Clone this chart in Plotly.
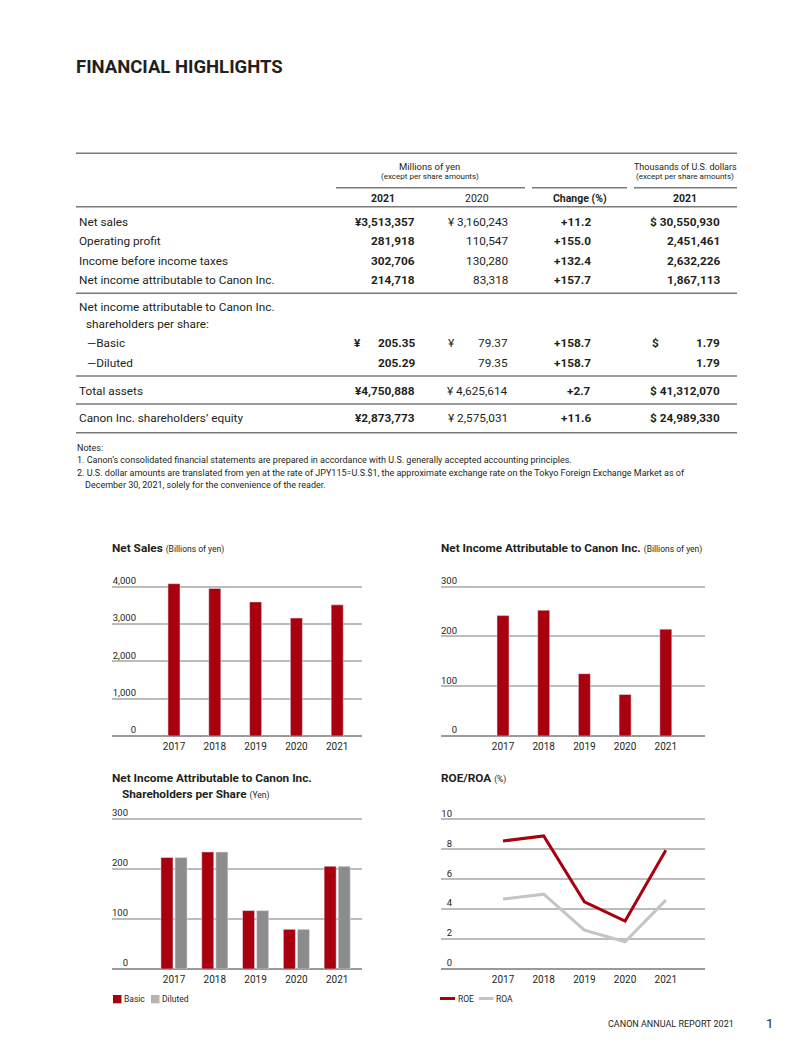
import plotly.graph_objects as go

# ---------------- data ----------------
years = ["2017", "2018", "2019", "2020", "2021"]
net_sales = [4080.0, 3951.9, 3593.3, 3160.2, 3513.4]          # billions of yen
net_income = [241.9, 252.8, 125.2, 83.3, 214.7]                 # billions of yen
eps_basic = [222.88, 234.09, 116.79, 79.37, 205.35]             # yen
eps_diluted = [222.86, 234.06, 116.77, 79.35, 205.29]           # yen
roe = [8.55, 8.89, 4.49, 3.2, 7.93]                             # %
roa = [4.67, 5.0, 2.6, 1.82, 4.6]                               # %

row_labels = ["Net sales", "Operating profit", "Income before income taxes",
              "Net income attributable to Canon Inc.", "\u2014Basic", "\u2014Diluted",
              "Total assets", "Canon Inc. shareholders\u2019 equity"]
group_label = ["Net income attributable to Canon Inc.", "shareholders per share:"]
col_2021 = ["\u00a53,513,357", "281,918", "302,706", "214,718", "205.35", "205.29",
            "\u00a54,750,888", "\u00a52,873,773"]
col_2020 = ["\u00a5 3,160,243", "110,547", "130,280", "83,318", "79.37", "79.35",
            "\u00a5 4,625,614", "\u00a5 2,575,031"]
col_change = ["+11.2", "+155.0", "+132.4", "+157.7", "+158.7", "+158.7", "+2.7", "+11.6"]
col_usd = ["$ 30,550,930", "2,451,461", "2,632,226", "1,867,113", "1.79", "1.79",
           "$ 41,312,070", "$ 24,989,330"]
col_headers = ["2021", "2020", "Change (%)", "2021"]
notes = ["Notes:",
         "1. Canon\u2019s consolidated financial statements are prepared in accordance with U.S. generally accepted accounting principles.",
         "2. U.S. dollar amounts are translated from yen at the rate of JPY115=U.S.$1, the approximate exchange rate on the Tokyo Foreign Exchange Market as of",
         "December 30, 2021, solely for the convenience of the reader."]

# ---------------- layout helpers ----------------
W, H = 812, 1058
FONT = "Roboto"
TXT = "#231f20"
RED = "#a8000e"
GRAY_BAR = "#8c8c8c"
GRAY_KEY = "#b4b4b4"
GRAY_LINE = "#c4c4c4"
GRID = "#bcbcbc"
RULE = "#7a7a7a"


def px(x):
    return x / W


def py(y):
    return 1 - y / H


fig = go.Figure()
annotations = []
shapes = []


def text(x, y, s, size, anchor="left", bold=False, color=TXT):
    if bold:
        s = "<b>" + s + "</b>"
    annotations.append(dict(x=px(x), y=py(y), xref="paper", yref="paper", text=s,
                            showarrow=False, xanchor=anchor, yanchor="middle",
                            borderpad=0,
                            font=dict(size=size, color=color, family=FONT)))


def rule(x0, x1, y, width=1.6, color=RULE):
    shapes.append(dict(type="line", xref="paper", yref="paper", x0=px(x0), x1=px(x1),
                       y0=py(y), y1=py(y), line=dict(color=color, width=width)))


def key_rect(x0, x1, y0, y1, color):
    shapes.append(dict(type="rect", xref="paper", yref="paper", x0=px(x0), x1=px(x1),
                       y0=py(y1), y1=py(y0), fillcolor=color, line=dict(width=0)))


# ---------------- page title ----------------
text(75, 67, "FINANCIAL HIGHLIGHTS", 18.5, bold=True)

# ---------------- table ----------------
L, R = 76, 737
rule(L, R, 153.3)
text(430, 166.7, "Millions of yen", 9.5, anchor="center")
text(430, 176.7, "(except per share amounts)", 8, anchor="center")
text(685, 166.7, "Thousands of U.S. dollars", 9, anchor="center")
text(685, 176.7, "(except per share amounts)", 8, anchor="center")
rule(336, 525, 187.7)
rule(532, 627, 187.7)
rule(634, R, 187.7)
hdr_x = [383, 477, 580, 685]
hdr_bold = [True, False, True, True]
for hx, h, b in zip(hdr_x, col_headers, hdr_bold):
    text(hx, 198.3, h, 10.5, anchor="center", bold=b)
rule(L, R, 206.7)
rule(L, R, 293.3)
rule(L, R, 376)
rule(L, R, 404)
rule(L, R, 432.7)

row_y = [221.7, 240.7, 260.7, 280, 342.7, 362.7, 390.7, 418.3]
label_x = [78, 78, 78, 78, 86, 86, 78, 78]
FS = 11.8
for i, y in enumerate(row_y):
    text(label_x[i], y, row_labels[i], FS)
    text(416, y, col_2021[i], FS, anchor="right", bold=True)
    text(509, y, col_2020[i], FS, anchor="right")
    text(592, y, col_change[i], FS, anchor="right", bold=True)
    text(721, y, col_usd[i], FS, anchor="right", bold=True)
text(78, 307, group_label[0], FS)
text(85, 324, group_label[1], FS)
# currency markers for the per-share row
text(353, row_y[4], "\u00a5", FS, bold=True)
text(447, row_y[4], "\u00a5", FS)
text(651, row_y[4], "$", FS, bold=True)

# notes
note_y = [448, 460, 472.5, 485]
note_x = [76, 76, 76, 84]
for nx, ny, s in zip(note_x, note_y, notes):
    text(nx, ny, s, 9)

# footer
text(607, 1024, "CANON ANNUAL REPORT 2021", 9)
text(769, 1023, "1", 13, anchor="center")

# ---------------- charts ----------------
charts = [
    dict(ax="", x0=112, x1=362, c0=174, sp=40.8, zero=736, topline=586.7, topval=4000,
         dtick=1000, lab_right=135, fmt=","),
    dict(ax="2", x0=441, x1=705, c0=503, sp=40.7, zero=736, topline=586.7, topval=300,
         dtick=100, lab_right=456, fmt=""),
    dict(ax="3", x0=112, x1=362, c0=174, sp=40.8, zero=969, topline=819, topval=300,
         dtick=100, lab_right=127, fmt=""),
    dict(ax="4", x0=441, x1=705, c0=503, sp=40.7, zero=969, topline=819.3, topval=10,
         dtick=2, lab_right=451, fmt=""),
]

layout_axes = {}
for c in charts:
    top_px = c["topline"] - 14
    ymax = c["topval"] * (c["zero"] - top_px) / (c["zero"] - c["topline"])
    xa = "xaxis" + c["ax"]
    ya = "yaxis" + c["ax"]
    layout_axes[xa] = dict(
        domain=[px(c["x0"]), px(c["x1"])], anchor="y" + c["ax"], type="category",
        range=[(c["x0"] - c["c0"]) / c["sp"], (c["x1"] - c["c0"]) / c["sp"]],
        showgrid=False, showline=False, zeroline=False, ticks="",
        ticklabelstandoff=3,
        tickfont=dict(size=10, color=TXT, family=FONT), fixedrange=True)
    layout_axes[ya] = dict(
        domain=[py(c["zero"]), py(top_px)], anchor="x" + c["ax"],
        range=[0, ymax], dtick=c["dtick"], tick0=0, tickformat=c["fmt"],
        showgrid=True, gridcolor=GRID, gridwidth=1.5,
        zeroline=True, zerolinecolor="#9a9a9a", zerolinewidth=1.5,
        showline=False, ticks="", ticklabelposition="outside",
        ticklabelstandoff=-(c["lab_right"] - c["x0"]) - 2, ticklabelshift=-6,
        tickfont=dict(size=9.5, color=TXT, family=FONT), fixedrange=True)

BW = 0.295
fig.add_trace(go.Bar(x=years, y=net_sales, xaxis="x", yaxis="y", marker_color=RED,
                     width=BW, showlegend=False, name="Net sales"))
fig.add_trace(go.Bar(x=years, y=net_income, xaxis="x2", yaxis="y2", marker_color=RED,
                     width=BW, showlegend=False, name="Net income"))
fig.add_trace(go.Bar(x=years, y=eps_basic, xaxis="x3", yaxis="y3", marker_color=RED,
                     width=BW, offset=-0.32, name="Basic", showlegend=False))
fig.add_trace(go.Bar(x=years, y=eps_diluted, xaxis="x3", yaxis="y3", marker_color=GRAY_BAR,
                     width=BW, offset=0.025, name="Diluted", showlegend=False))
fig.add_trace(go.Scatter(x=years, y=roe, xaxis="x4", yaxis="y4", mode="lines",
                         line=dict(color=RED, width=3), name="ROE", showlegend=False))
fig.add_trace(go.Scatter(x=years, y=roa, xaxis="x4", yaxis="y4", mode="lines",
                         line=dict(color=GRAY_LINE, width=3), name="ROA", showlegend=False))

# compact keys (legends) under the lower charts
key_rect(113, 121.5, 995, 1003.3, RED)
text(122.5, 999, "Basic", 8.5)
key_rect(151, 159.5, 995, 1003.3, GRAY_KEY)
text(160.5, 999, "Diluted", 8.5)
rule(440, 455, 998.5, width=3, color=RED)
text(456.5, 999, "ROE", 8.5)
rule(479, 493.5, 998.5, width=3, color=GRAY_LINE)
text(495, 999, "ROA", 8.5)

# chart titles
SUB = "<span style='font-size:8.5px;font-weight:normal'>{}</span>"
text(111, 548, "<b>Net Sales</b> " + SUB.format("(Billions of yen)"), 11.8)
text(440, 548, "<b>Net Income Attributable to Canon Inc.</b> " + SUB.format("(Billions of yen)"), 11.8)
text(111, 778, "<b>Net Income Attributable to Canon Inc.</b>", 11.8)
text(121, 794, "<b>Shareholders per Share</b> " + SUB.format("(Yen)"), 11.8)
text(440, 778, "<b>ROE/ROA</b> " + SUB.format("(%)"), 11.8)

fig.update_layout(
    width=W, height=H, margin=dict(l=0, r=0, t=0, b=0),
    paper_bgcolor="white", plot_bgcolor="white",
    font=dict(family=FONT, color=TXT),
    barmode="overlay", hovermode=False, showlegend=False,
    annotations=annotations, shapes=shapes,
    **layout_axes,
)

fig.write_html("out.html", config={"displayModeBar": False},
               post_script="document.body.style.margin='0';")
